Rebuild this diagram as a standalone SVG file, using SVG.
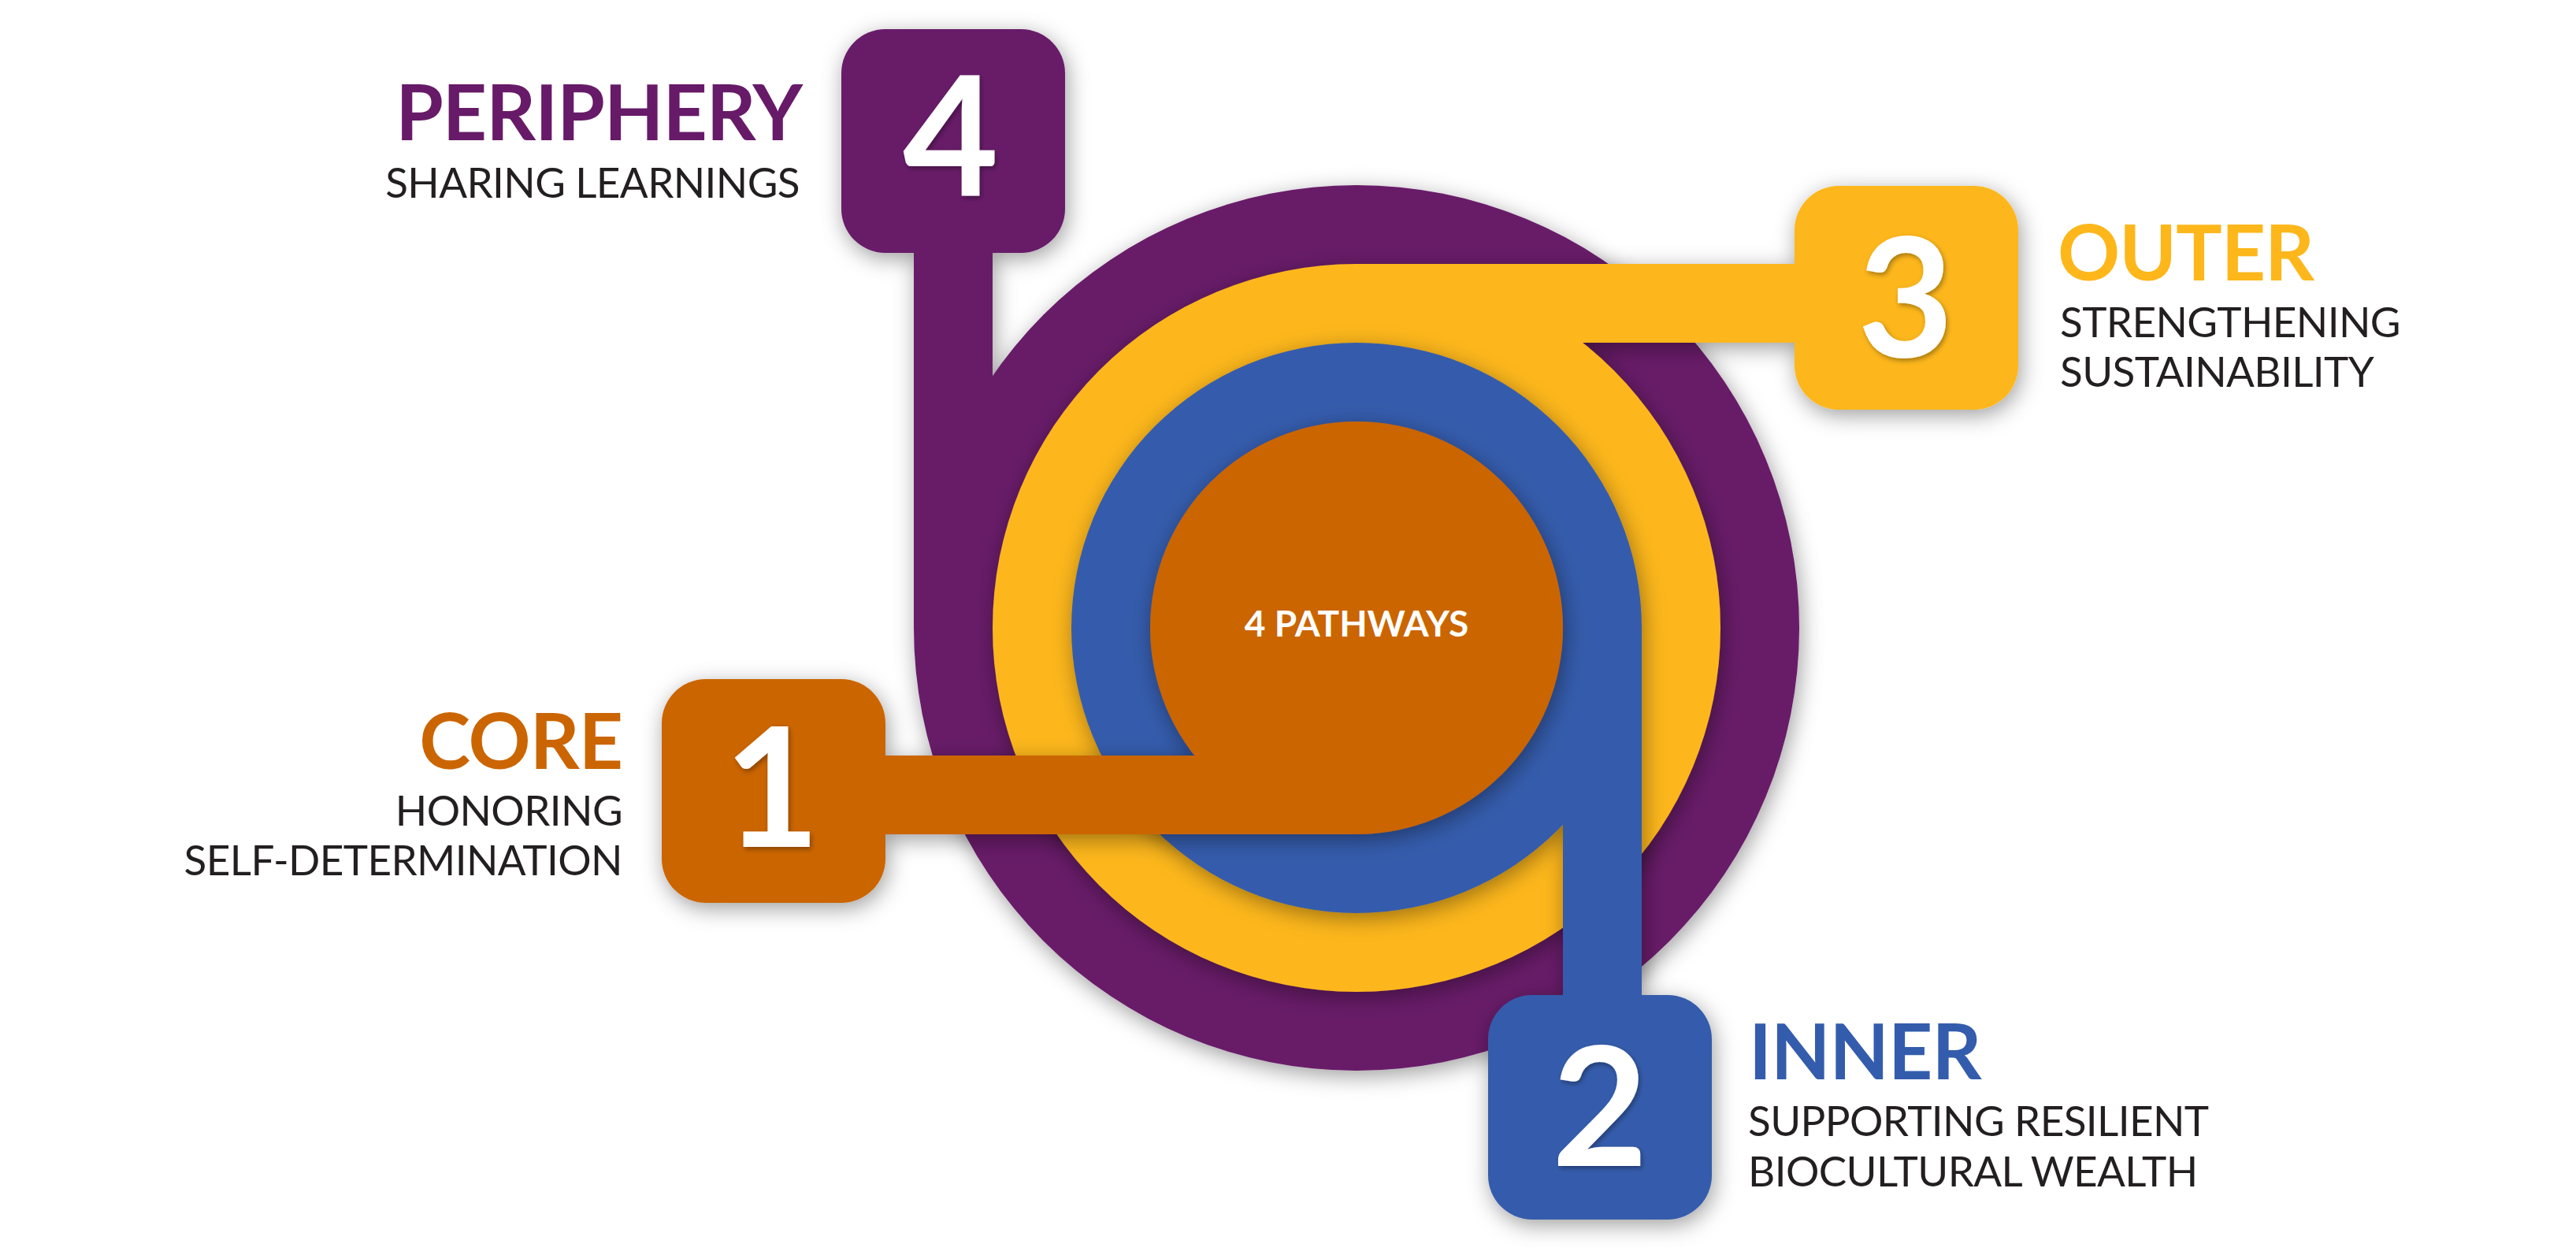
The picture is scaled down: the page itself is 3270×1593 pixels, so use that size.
<svg xmlns="http://www.w3.org/2000/svg" width="3270" height="1593" viewBox="0 0 3270 1593">
  <defs>
    <filter id="shadow" x="-20%" y="-20%" width="140%" height="140%">
      <feDropShadow dx="3" dy="7" stdDeviation="14" flood-color="#000000" flood-opacity="0.38"/>
    </filter>
    <filter id="digitShadow" x="-20%" y="-20%" width="140%" height="140%">
      <feDropShadow dx="2" dy="3" stdDeviation="3" flood-color="#000000" flood-opacity="0.35"/>
    </filter>
    <style>
      .purple { fill: #671A68; }
      .yellow { fill: #FDB71B; }
      .blue { fill: #345CAC; }
      .orange { fill: #CB6502; }
      .digit { font-family: Lato, "Liberation Sans", sans-serif; font-weight: 700; font-size: 210px; fill: #FFFFFF; text-anchor: middle; }
      .title { font-family: Lato, "Liberation Sans", sans-serif; font-weight: 700; font-size: 98px; letter-spacing: -1px; }
      .sub { font-family: Lato, "Liberation Sans", sans-serif; font-weight: 400; font-size: 53px; letter-spacing: -0.6px; fill: #231F20; }
      .center { font-family: Lato, "Liberation Sans", sans-serif; font-weight: 700; font-size: 46px; fill: #FFFFFF; text-anchor: middle; }
    </style>
  </defs>
  <rect width="3270" height="1593" fill="#FFFFFF"/>

  <!-- Periphery (4) -->
  <g id="node-periphery" filter="url(#shadow)">
    <circle class="purple" cx="1722" cy="797" r="562"/>
    <rect class="purple connector" x="1160" y="300" width="100" height="497"/>
    <rect class="purple" x="1068" y="37" width="284" height="284" rx="56" ry="56"/>
  </g>

  <!-- Outer (3) -->
  <g id="node-outer" filter="url(#shadow)">
    <circle class="yellow" cx="1722" cy="797" r="462"/>
    <rect class="yellow connector" x="1722" y="335" width="580" height="100"/>
    <rect class="yellow" x="2278" y="236" width="284" height="284" rx="56" ry="56"/>
  </g>

  <!-- Inner (2) -->
  <g id="node-inner" filter="url(#shadow)">
    <circle class="blue" cx="1722" cy="797" r="362"/>
    <rect class="blue connector" x="1984" y="797" width="100" height="490"/>
    <rect class="blue" x="1889" y="1263" width="284" height="285" rx="56" ry="56"/>
  </g>

  <!-- Core (1) -->
  <g id="node-core" filter="url(#shadow)">
    <circle class="orange" cx="1722" cy="797" r="262"/>
    <rect class="orange connector" x="1100" y="959" width="622" height="100"/>
    <rect class="orange" x="840" y="862" width="284" height="284" rx="56" ry="56"/>
  </g>

  <g id="connectors"></g>

  <!-- Digits -->
  <g id="digits" filter="url(#digitShadow)">
    <text class="digit" x="1207" y="248">4</text>
    <text class="digit" x="2419" y="453">3</text>
    <text class="digit" x="2031" y="1480">2</text>
    <text class="digit" x="980" y="1075">1</text>
  </g>

  <text class="center" x="1722" y="808">4 PATHWAYS</text>

  <!-- Labels -->
  <g id="label-periphery" text-anchor="end">
    <text class="title" x="1018" y="178" fill="#671A68">PERIPHERY</text>
    <text class="sub" x="1015" y="251">SHARING LEARNINGS</text>
  </g>
  <g id="label-outer">
    <text class="title" x="2612" y="356" fill="#FDB71B">OUTER</text>
    <text class="sub" x="2615" y="428">STRENGTHENING</text>
    <text class="sub" x="2615" y="491">SUSTAINABILITY</text>
  </g>
  <g id="label-core" text-anchor="end">
    <text class="title" x="790" y="976" fill="#CB6502">CORE</text>
    <text class="sub" x="790" y="1048">HONORING</text>
    <text class="sub" x="790" y="1111">SELF-DETERMINATION</text>
  </g>
  <g id="label-inner">
    <text class="title" x="2220" y="1370" fill="#345CAC">INNER</text>
    <text class="sub" x="2219" y="1442">SUPPORTING RESILIENT</text>
    <text class="sub" x="2219" y="1506">BIOCULTURAL WEALTH</text>
  </g>
</svg>
